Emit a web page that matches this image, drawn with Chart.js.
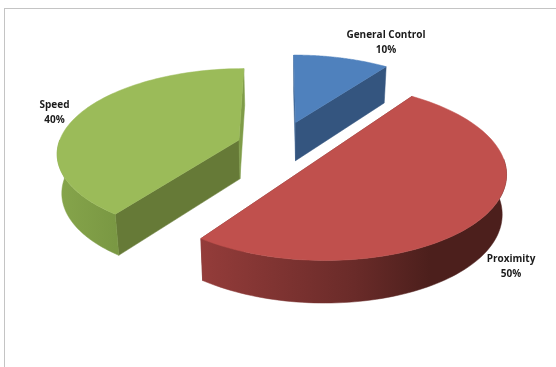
<!DOCTYPE html>
<html>
<head>
<meta charset="utf-8">
<style>
  html, body { margin: 0; padding: 0; background: #fff; }
  #wrap { position: absolute; left: 4px; top: 8px; width: 552px; height: 359px;
          border-left: 1px solid #c4c4c4; border-top: 1px solid #c4c4c4; box-sizing: border-box; }
  canvas { position: absolute; left: 0; top: 0; filter: blur(0.4px); }
</style>
<script src="https://cdn.jsdelivr.net/npm/chart.js@4"></script>
</head>
<body>
<div id="wrap"></div>
<canvas id="pie" width="556" height="367"></canvas>
<script>
// data
const categories = ['General Control', 'Proximity', 'Speed'];
const shares = [10, 50, 40];

// colours per slice
const topColors = ['#4f81bd', '#c0504d', '#9bbb59'];
const faceColors = ['#34557f', '#7a2f2d', '#667a37'];   // cut faces
const edgeColors = ['#3f6797', '#7a2f2d', '#7f9c48'];   // thin face at 12 o'clock
const wallStops = [
  [[0, '#34557f'], [1, '#34557f']],
  [[0, '#943c3a'], [0.5, '#6a2b29'], [0.75, '#4c1f1c'], [1, '#4c1f1c']],
  [[0, '#86a54b'], [1, '#7a9843']],
];

// 3d look
const pie3d = {
  id: 'pie3d',
  beforeDatasetDraw(chart, args, opts) {
    const c = chart.ctx;
    const arcs = chart.getDatasetMeta(0).data;

    const project = (u, v) => {
      const w = 1 + opts.perspective * v;
      return {
        x: arcs[0].x + opts.radiusX * u / w,
        y: arcs[0].y - opts.radiusY * v / w,
        w,
      };
    };
    const lower = (p) => ({
      x: arcs[0].x + opts.vanishX + (p.x - arcs[0].x - opts.vanishX) * opts.depthShrink,
      y: p.y + opts.depth / Math.sqrt(p.w),
    });
    const fillPoly = (pts, fill) => {
      c.beginPath();
      pts.forEach((p, i) => (i ? c.lineTo(p.x, p.y) : c.moveTo(p.x, p.y)));
      c.closePath();
      c.fillStyle = fill;
      c.fill();
      c.strokeStyle = fill;
      c.lineWidth = 0.5;
      c.stroke();
    };

    arcs.forEach((arc, i) => {
      const mid = (arc.startAngle + arc.endAngle) / 2;
      const ex = opts.explode[i];
      const ou = ex * Math.cos(mid);
      const ov = -ex * Math.sin(mid);
      const rim = (a) => project(ou + Math.cos(a), ov - Math.sin(a));
      const apex = project(ou, ov);

      // cut faces
      [[arc.startAngle, i === 0 ? edgeColors[i] : faceColors[i]],
       [arc.endAngle, i === 0 ? faceColors[i] : edgeColors[i]]].forEach(([a, col]) => {
        const p = rim(a);
        fillPoly([apex, p, lower(p), lower(apex)], col);
      });

      // outer wall, only the part that faces the viewer
      const from = Math.max(arc.startAngle, 0);
      const to = Math.min(arc.endAngle, Math.PI);
      if (to > from) {
        const top = [];
        for (let s = 0; s <= 80; s++) top.push(rim(from + (to - from) * s / 80));
        const xs = top.map((p) => p.x);
        const g = c.createLinearGradient(Math.min(...xs), 0, Math.max(...xs), 0);
        wallStops[i].forEach(([o, col]) => g.addColorStop(o, col));
        fillPoly(top.concat(top.map(lower).reverse()), g);
      }

      // top
      const outline = [apex];
      for (let s = 0; s <= 80; s++) outline.push(rim(arc.startAngle + (arc.endAngle - arc.startAngle) * s / 80));
      fillPoly(outline, topColors[i]);
    });

    // labels
    c.font = opts.font;
    c.fillStyle = '#1a1a1a';
    c.textAlign = 'center';
    c.textBaseline = 'middle';
    const total = shares.reduce((a, b) => a + b, 0);
    categories.forEach((name, i) => {
      c.fillText(name, opts.labelAt[i][0], opts.labelAt[i][1] - 7.25);
      c.fillText(Math.round(shares[i] / total * 100) + '%', opts.labelAt[i][0], opts.labelAt[i][1] + 7.25);
    });
    return false;
  },
};

new Chart(document.getElementById('pie'), {
  type: 'pie',
  plugins: [pie3d],
  data: {
    labels: categories,
    datasets: [{ data: shares, backgroundColor: topColors, borderWidth: 0 }],
  },
  options: {
    responsive: false,
    animation: false,
    layout: { padding: { bottom: 75, left: 2 } },
    plugins: {
      legend: { display: false },
      tooltip: { enabled: false },
      pie3d: {
        radiusX: 181,
        radiusY: 83,
        perspective: 0.14,
        vanishX: 10,
        depthShrink: 0.98,
        depth: 39,
        explode: [0.31, 0.265, 0.235],
        font: 'bold 10px "Open Sans"',
        labelAt: [[386, 42.5], [511, 266.5], [54.5, 112.5]],
      },
    },
  },
});
</script>
</body>
</html>
